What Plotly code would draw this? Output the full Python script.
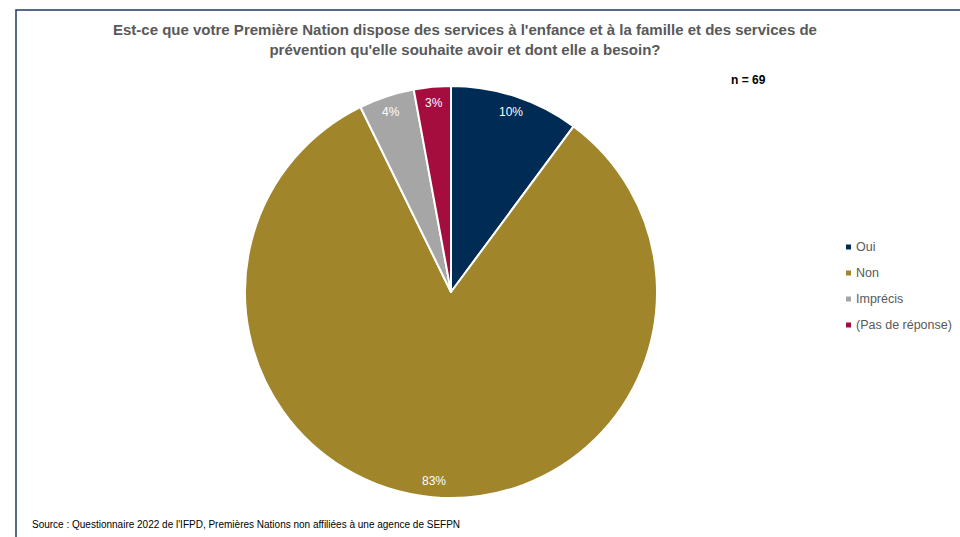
import math
import plotly.graph_objects as go

# Survey responses (n = 69)
categories = ["Oui", "Non", "Imprécis", "(Pas de réponse)"]
counts = [7, 57, 3, 2]
colors = ["#002B55", "#A0852B", "#A6A6A6", "#A50D3E"]

title_text = ("Est-ce que votre Première Nation dispose des services à l'enfance et à la famille et des services de"
              "<br>prévention qu'elle souhaite avoir et dont elle a besoin?")
n_text = "n = 69"
source_text = "Source : Questionnaire 2022 de l'IFPD, Premières Nations non affiliées à une agence de SEFPN"

W, H = 960, 537
cx, cy, r = 451, 292, 206
FONT = "Liberation Sans, Arial, sans-serif"


def px(x):
    return x / W


def py(y):
    return 1 - y / H


fig = go.Figure(go.Pie(
    labels=categories,
    values=counts,
    sort=False,
    direction="clockwise",
    rotation=0,
    marker=dict(colors=colors, line=dict(color="white", width=2)),
    textinfo="none",
    hoverinfo="label+percent",
    showlegend=False,
    domain=dict(x=[px(cx - r), px(cx + r)], y=[py(cy + r), py(cy - r)]),
))

annotations = [
    dict(text="<b>" + title_text + "</b>", xref="paper", yref="paper",
         x=px(465), y=py(19), xanchor="center", yanchor="top",
         showarrow=False, font=dict(size=15, color="#595959")),
    dict(text="<b>" + n_text + "</b>", xref="paper", yref="paper",
         x=px(748), y=py(80), xanchor="center", yanchor="middle",
         showarrow=False, font=dict(size=12, color="black")),
    dict(text=source_text, xref="paper", yref="paper",
         x=px(30), y=py(524), xanchor="left", yanchor="middle",
         showarrow=False, font=dict(size=10, color="black")),
]

# Percentage labels placed near the outer edge of each slice, at its mid-angle
total = sum(counts)
cum = 0
label_r = 190
for v in counts:
    mid = (cum + v / 2) / total * 2 * math.pi
    cum += v
    lx = cx + label_r * math.sin(mid)
    ly = cy - label_r * math.cos(mid)
    annotations.append(dict(
        text=f"{round(100 * v / total)}%", xref="paper", yref="paper",
        x=px(lx), y=py(ly), xanchor="center", yanchor="middle",
        showarrow=False, font=dict(size=12, color="white")))

# Legend: small square swatches with labels
shapes = [dict(type="rect", xref="paper", yref="paper",
               x0=px(16), y0=-0.05, x1=1.05, y1=py(10),
               line=dict(color="#1F3864", width=1.5))]
for i, (cat, col) in enumerate(zip(categories, colors)):
    yy = 247 + 26 * i
    shapes.append(dict(type="rect", xref="paper", yref="paper",
                       x0=px(846), x1=px(851), y0=py(yy + 2.5), y1=py(yy - 2.5),
                       fillcolor=col, line=dict(width=0)))
    annotations.append(dict(text=cat, xref="paper", yref="paper",
                            x=px(854), y=py(yy), xanchor="left", yanchor="middle",
                            showarrow=False, font=dict(size=12.5, color="#595959")))

fig.update_layout(
    width=W, height=H,
    margin=dict(l=0, r=0, t=0, b=0),
    paper_bgcolor="white",
    font=dict(family=FONT, color="#595959"),
    showlegend=False,
    shapes=shapes,
    annotations=annotations,
)

fig.write_html("out.html")
